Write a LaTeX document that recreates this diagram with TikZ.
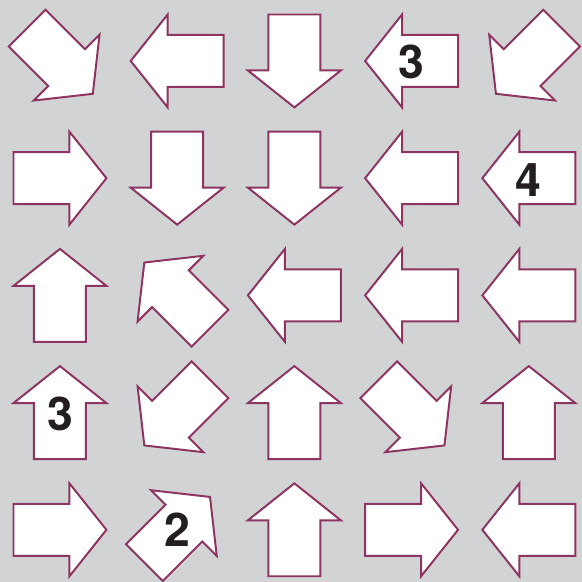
\documentclass[tikz,border=0pt]{standalone}
\usepackage{fontspec}
\setsansfont{TeX Gyre Heros}
\usepackage{tikz}
\definecolor{panelgrey}{RGB}{209, 211, 212}
\definecolor{arrowplum}{RGB}{142, 52, 98}
\definecolor{digitblack}{RGB}{35, 31, 32}

\begin{document}
\begin{tikzpicture}[
    x=0.025cm, y=-0.025cm,
    arrowtile/.style={draw=arrowplum, fill=white, line width=1.4pt, line join=miter},
    clue/.style={font=\sffamily\bfseries\fontsize{33}{33}\selectfont, text=digitblack, inner sep=0pt}
]
    % Background
    \fill[panelgrey] (0,0) rectangle (582,582);

    % Arrows: column / row / direction
    \foreach \col/\row/\ang in {
        0/0/-45, 1/0/180, 2/0/-90, 3/0/180, 4/0/-135,
        0/1/0,   1/1/-90, 2/1/-90, 3/1/180, 4/1/180,
        0/2/90,  1/2/135, 2/2/180, 3/2/180, 4/2/180,
        0/3/90,  1/3/-135, 2/3/90, 3/3/-45, 4/3/90,
        0/4/0,   1/4/45,  2/4/90,  3/4/0,   4/4/180}
    {
        \draw[arrowtile, shift={(60+117.3*\col, 61+117.3*\row)}, rotate=\ang]
            (-46.5,-26) -- (9.5,-26) -- (9.5,-46.5) -- (46.5,0)
            -- (9.5,46.5) -- (9.5,26) -- (-46.5,26) -- cycle;
    }

    % Clues
    \node[clue] (clueA) at (411.9, 62) {3};
    \node[clue] (clueB) at (528.5, 180) {4};
    \node[clue] (clueC) at (60, 414) {3};
    \node[clue] (clueD) at (177.5, 530) {2};
\end{tikzpicture}
\end{document}
